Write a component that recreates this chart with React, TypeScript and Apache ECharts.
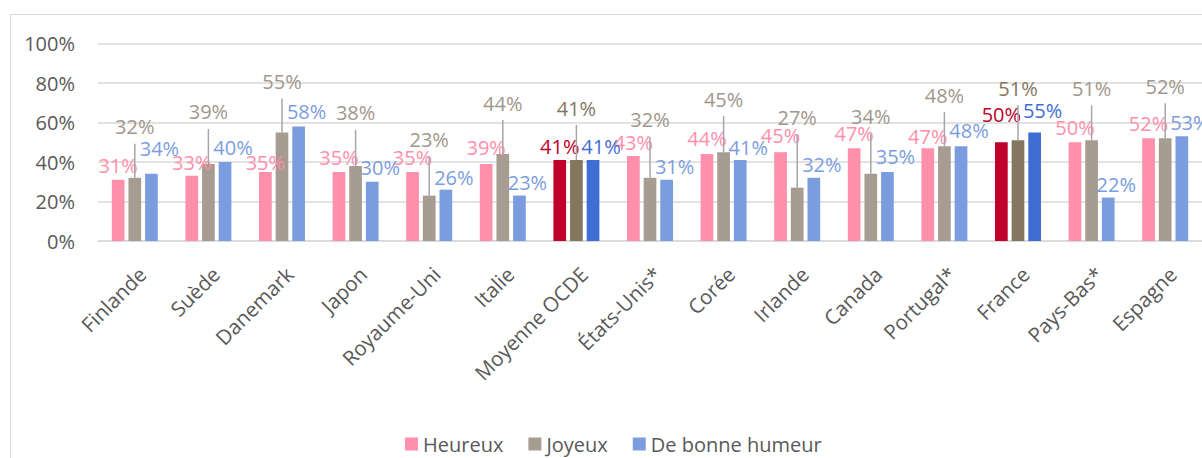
import React, { useEffect, useRef } from "react";
import * as echarts from "echarts";

const categories = [
  "Finlande", "Suède", "Danemark", "Japon", "Royaume-Uni", "Italie", "Moyenne OCDE",
  "États-Unis*", "Corée", "Irlande", "Canada", "Portugal*", "France", "Pays-Bas*", "Espagne",
];
const heureux = [31, 33, 35, 35, 35, 39, 41, 43, 44, 45, 47, 47, 50, 50, 52];
const joyeux = [32, 39, 55, 38, 23, 44, 41, 32, 45, 27, 34, 48, 51, 51, 52];
const bonneHumeur = [34, 40, 58, 30, 26, 23, 41, 31, 41, 32, 35, 48, 55, 22, 53];
const highlighted = ["Moyenne OCDE", "France"];
const yTicks = [0, 20, 40, 60, 80, 100];

// label placement (pixels above bar top, label centre)
const pinkRise = [14, 13, 9, 14, 14, 16, 14, 14, 16, 17, 15, 12, 28, 15, 15];
const grayRise = [51, 52, 51, 53, 56, 51, 52, 58, 53, 70, 57, 51, 52, 52, 52];
const blueRise = [25, 15, 15, 14, 12, 13, 14, 13, 13, 13, 15, 16, 22, 13, 14];

const FONT = "'Open Sans', 'Noto Sans', sans-serif";

const styles = {
  Heureux: { bar: "#FF8FAB", dark: "#C0002A", text: "#FF8FAB", dx: 0, rise: pinkRise },
  Joyeux: { bar: "#A69C92", dark: "#857660", text: "#A0978C", dx: 0, rise: grayRise },
  "De bonne humeur": { bar: "#7B9DE0", dark: "#3F6ED3", text: "#7B9DE0", dx: 8, rise: blueRise },
};

function makeSeries(name: string, values: number[]) {
  const s = (styles as any)[name];
  return {
    name,
    type: "bar",
    barWidth: 12.7,
    barGap: "31%",
    itemStyle: { color: s.bar },
    label: {
      show: true,
      position: "top",
      distance: 0,
      fontFamily: FONT,
      fontSize: 20,
      color: s.text,
      formatter: (p: any) => `${p.value}%`,
    },
    data: values.map((v, i) => {
      const hi = highlighted.includes(categories[i]);
      return {
        value: v,
        itemStyle: { color: hi ? s.dark : s.bar },
        label: {
          offset: [s.dx, -(s.rise[i] - 10)],
          color: hi ? s.dark : s.text,
        },
      };
    }),
  };
}

export default function App() {
  const ref = useRef<HTMLDivElement>(null);
  useEffect(() => {
    if (!ref.current) return;
    const chart = echarts.init(ref.current, undefined, { renderer: "svg" });
    chart.setOption({
      animation: false,
      backgroundColor: "#ffffff",
      textStyle: { fontFamily: FONT },
      graphic: [
        {
          type: "rect",
          shape: { x: 10.5, y: 14.5, width: 1400, height: 700 },
          style: { fill: "none", stroke: "#d9d9d9", lineWidth: 1 },
          silent: true,
        },
      ],
      grid: { left: 98, right: 0, top: 43.5, bottom: 217, containLabel: false },
      legend: {
        left: 400,
        top: 429,
        itemWidth: 13,
        itemHeight: 13,
        itemGap: 25,
        icon: "rect",
        data: ["Heureux", "Joyeux", "De bonne humeur"],
        textStyle: { fontFamily: FONT, fontSize: 20, color: "#595959" },
      },
      xAxis: {
        type: "category",
        data: categories,
        axisLine: { lineStyle: { color: "#d9d9d9", width: 1.5 } },
        axisTick: { show: false },
        axisLabel: {
          interval: 0,
          rotate: 45,
          margin: 22,
          align: "right",
          verticalAlign: "top",
          fontFamily: FONT,
          fontSize: 20.5,
          color: "#595959",
        },
      },
      yAxis: {
        type: "value",
        min: yTicks[0],
        max: yTicks[yTicks.length - 1],
        interval: 20,
        axisLine: { show: false },
        axisTick: { show: false },
        splitLine: { lineStyle: { color: "#d9d9d9", width: 1.5 } },
        axisLabel: {
          margin: 23,
          fontFamily: FONT,
          fontSize: 20,
          color: "#595959",
          formatter: "{value}%",
        },
      },
      series: [
        makeSeries("Heureux", heureux),
        makeSeries("Joyeux", joyeux),
        makeSeries("De bonne humeur", bonneHumeur),
        {
          name: "leader",
          type: "custom",
          silent: true,
          z: 3,
          data: joyeux.map((v, i) => [i, v]),
          encode: { x: 0, y: 1 },
          renderItem: (params: any, api: any) => {
            const p = api.coord([api.value(0), api.value(1)]);
            const len = grayRise[params.dataIndex] - 17;
            return {
              type: "line",
              shape: { x1: p[0], y1: p[1], x2: p[0], y2: p[1] - len },
              style: { stroke: "#a6a6a6", lineWidth: 1.5 },
            };
          },
        },
      ],
    });
    return () => chart.dispose();
  }, []);
  return (
    <div
      ref={ref}
      style={{ position: "absolute", left: 0, top: 0, width: 1202, height: 458 }}
    />
  );
}
